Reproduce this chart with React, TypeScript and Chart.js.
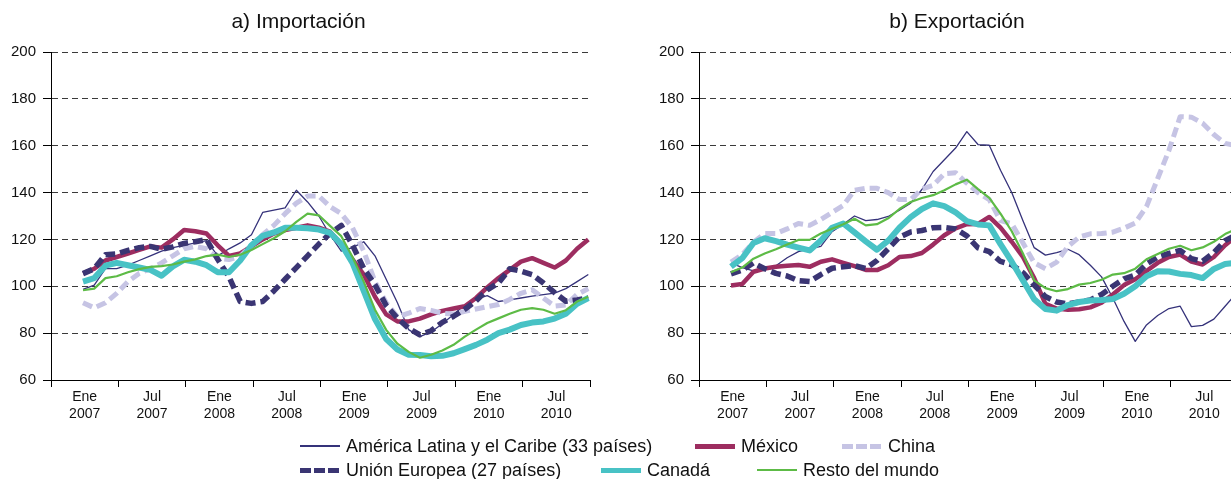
import React, { useEffect, useRef } from 'react';
import { Chart, registerables } from 'chart.js';

Chart.register(...registerables);

const FONT = '"Liberation Sans", Arial, Helvetica, sans-serif';

// Half-year labels under the x axis (one per six-month band)
const periodLabels: string[][] = [
  ['Ene', '2007'], ['Jul', '2007'], ['Ene', '2008'], ['Jul', '2008'],
  ['Ene', '2009'], ['Jul', '2009'], ['Ene', '2010'], ['Jul', '2010'],
];

// Index value axis
const yMin = 60;
const yMax = 200;
const yStep = 20;

// a) Importación — monthly index values
const impAmericaLatina = [98.7, 100.5, 107.5, 107.5, 109, 111, 113, 115, 116.5, 117.5, 118.5, 119.5, 113, 116, 118.5, 122, 131.5, 132.5, 133.5, 141, 136, 130, 122, 115, 116.5, 119, 113, 103, 93, 81.5, 78.5, 80.5, 84, 88, 92, 94.5, 96, 93.5, 94.2, 95, 95.8, 96.4, 97.1, 99, 102, 105];
const impMexico = [105.5, 107.5, 111, 112.5, 114, 115.5, 117, 116.5, 120, 124, 123.5, 122.5, 117.5, 113, 114, 117, 120, 122.5, 124, 125, 126, 125, 123.3, 118, 111.5, 105, 95.5, 88, 85, 85, 86.2, 88, 89.5, 90.5, 91.5, 95, 99.5, 103.5, 107, 110.5, 112, 110, 108, 111, 116, 120];
const impChina = [93, 90.8, 93, 97, 102, 105.5, 107.5, 110, 113, 116, 117, 116, 112, 111.4, 112.8, 117.5, 122, 126, 131, 135.5, 138.5, 138.5, 134, 131, 125, 115, 102, 93, 87, 88.5, 90.5, 89.7, 88.5, 88.2, 89.3, 90.3, 91.3, 92.2, 94.4, 97, 98.5, 95, 91.5, 92, 96.5, 99];
const impUnionEuropea = [105.4, 107.5, 113.5, 113.8, 115.3, 116.5, 117, 115.8, 116.8, 118.3, 119, 120, 111.5, 104, 93.5, 92.7, 93.5, 98, 103, 108, 113, 118, 122.5, 126, 117.6, 107.6, 100.6, 91.8, 86.4, 82.1, 79.3, 81, 84.6, 87.2, 90.2, 93.8, 98.5, 101.4, 107.5, 106.5, 105, 101.4, 97.3, 93.6, 94.2, 95];
const impCanada = [102, 103.5, 108.8, 110, 109, 108, 107, 104.5, 108.5, 111.3, 110.5, 109, 106, 106, 111, 117.5, 121.5, 123, 125, 125, 124.8, 124.2, 122.8, 118, 110, 98, 86, 77.5, 73, 70.8, 70.7, 70.1, 70.3, 71.4, 73.2, 75, 77.2, 80, 81.5, 83.5, 84.5, 85, 86.2, 88.3, 92.5, 95];
const impRestoMundo = [98.3, 99, 103.5, 104.3, 106, 107.3, 108.3, 108.6, 109.3, 110.5, 111.5, 112.9, 113.5, 112.5, 113.5, 115.5, 118, 120.5, 123.5, 127.5, 131, 130.3, 125.8, 121.4, 112.5, 102, 90, 81.4, 75.5, 72, 69.5, 70.8, 72.6, 75, 78.5, 81.5, 84.3, 86.3, 88.3, 90, 90.7, 90, 88.3, 89.8, 93.5, 95.5];

// b) Exportación — monthly index values
const expAmericaLatina = [110, 108, 106.6, 107.3, 108.8, 112.2, 114.8, 116, 117, 123.3, 126.5, 130, 128, 128.5, 129.8, 132.5, 135.5, 141.3, 149, 154, 159, 166, 160.5, 160.2, 149.5, 140, 128, 116.5, 113.3, 114.4, 115.8, 113.5, 109, 104, 95, 85, 76.5, 83.5, 87.5, 90.5, 91.5, 82.8, 83.3, 86, 91.5, 97];
const expMexico = [100.3, 101, 106.2, 107.6, 108.3, 108.8, 109.1, 108.3, 110.5, 111.5, 110, 108.6, 107, 106.9, 109, 112.5, 112.9, 114.2, 117.8, 121.8, 124.7, 126.5, 126.6, 129.6, 125, 119, 112.5, 103.5, 92.5, 90.5, 90, 90.2, 91, 93, 96.5, 100.5, 103, 106.5, 110, 112.5, 113.5, 110.5, 109.3, 112.5, 117.5, 121.5];
const expChina = [110.3, 113.5, 118.8, 122.5, 122.5, 124.5, 126.8, 126, 128.5, 131.5, 134.5, 141, 141.8, 141.8, 140, 137, 137, 141.5, 143.1, 148, 148.5, 144, 140, 137, 128, 126.7, 118.5, 110, 107.5, 110.3, 117, 121, 122.4, 122.5, 123.1, 124.8, 127, 134, 146, 158, 172.4, 172.2, 169.6, 164.8, 161, 160];
const expUnionEuropea = [105.3, 106.9, 110, 107.5, 105.5, 104.4, 102.4, 102, 105, 107.7, 108.3, 108.8, 107.6, 111, 116, 121, 123.2, 123.8, 125, 125.1, 124.5, 121.5, 116.4, 114.8, 110.6, 109.2, 105.8, 100.5, 95.6, 93.3, 92.5, 93.3, 94.2, 96.5, 100, 103.2, 104.8, 109.5, 112.5, 114, 115.3, 111.8, 110.7, 114.4, 119.5, 122];
const expCanada = [108.4, 112, 118.5, 120.5, 119.3, 117.8, 116.5, 115.3, 119.5, 125, 126.8, 123, 119.2, 115.6, 119.5, 125, 129.5, 133, 135.4, 134.2, 131.5, 127.8, 126.4, 126, 118, 110.5, 102.5, 94.5, 90.3, 89.6, 92, 93.3, 93.9, 94.1, 94.6, 96.8, 100, 104.3, 106.4, 106.3, 105.3, 104.8, 103.5, 107.4, 109.5, 110];
const expRestoMundo = [106, 108, 111.8, 114, 115.8, 117.8, 119.8, 119.8, 122.5, 124.6, 126.5, 128.8, 126, 126.5, 129, 133, 136, 137.7, 138.9, 141, 143.5, 145.5, 141.5, 137.7, 131, 123.5, 114, 102.5, 99.2, 97.9, 98.8, 100.7, 101.4, 102.8, 105, 105.6, 107.5, 111.5, 113.8, 116, 117.3, 115.4, 116.6, 119, 122.3, 124.5];

const seriesNames = [
  'América Latina y el Caribe (33 países)',
  'México',
  'China',
  'Unión Europea (27 países)',
  'Canadá',
  'Resto del mundo',
];

const importSeries = [impAmericaLatina, impMexico, impChina, impUnionEuropea, impCanada, impRestoMundo];
const exportSeries = [expAmericaLatina, expMexico, expChina, expUnionEuropea, expCanada, expRestoMundo];

type SeriesStyle = { color: string; width: number; dash: number[]; order: number; swatch: number };

// Line styles, in series order (lower "order" is drawn on top)
const seriesStyles: SeriesStyle[] = [
  { color: '#35327a', width: 1.3, dash: [], order: 5, swatch: 1.5 },
  { color: '#9d2d60', width: 4.5, dash: [], order: 4, swatch: 5 },
  { color: '#c6c4e4', width: 5, dash: [10, 5], order: 3, swatch: 5 },
  { color: '#3a3573', width: 5.5, dash: [10, 5], order: 2, swatch: 5 },
  { color: '#48c2c5', width: 6, dash: [], order: 1, swatch: 5 },
  { color: '#5dbb46', width: 2.2, dash: [], order: 0, swatch: 2.5 },
];

// The x axis covers 48 months; the first month sits just under three months in
const AXIS_START = -2.85;
const AXIS_MONTHS = 48;
const BAND = 6;

function makeConfig(values: number[][]): any {
  return {
    type: 'line',
    data: {
      datasets: values.map((vals, k) => ({
        label: seriesNames[k],
        data: vals.map((v, i) => ({ x: i, y: v })),
        borderColor: seriesStyles[k].color,
        backgroundColor: seriesStyles[k].color,
        borderWidth: seriesStyles[k].width,
        borderDash: seriesStyles[k].dash,
        borderCapStyle: 'butt',
        borderJoinStyle: 'round',
        pointRadius: 0,
        pointHoverRadius: 0,
        tension: 0,
        fill: false,
        order: seriesStyles[k].order,
      })),
    },
    options: {
      animation: false,
      responsive: false,
      devicePixelRatio: 1,
      events: [],
      layout: { padding: { top: 52, left: 0, right: 0, bottom: 0 } },
      plugins: {
        legend: { display: false },
        title: { display: false },
        tooltip: { enabled: false },
      },
      scales: {
        x: {
          type: 'linear',
          min: AXIS_START,
          max: AXIS_START + AXIS_MONTHS,
          afterBuildTicks: (scale: any) => {
            const t: { value: number }[] = [];
            const bands = AXIS_MONTHS / BAND;
            for (let k = 0; k <= bands; k++) {
              t.push({ value: AXIS_START + BAND * k });
              if (k < bands) t.push({ value: AXIS_START + BAND * k + BAND / 2 });
            }
            scale.ticks = t;
          },
          afterFit: (scale: any) => {
            scale.height = 60;
          },
          grid: {
            drawOnChartArea: false,
            drawTicks: true,
            tickLength: 7,
            tickWidth: 1,
            tickColor: (ctx: any) => (ctx.index % 2 === 0 ? '#000000' : 'rgba(0,0,0,0)'),
          },
          border: { display: true, color: '#000000', width: 1 },
          ticks: {
            autoSkip: false,
            maxRotation: 0,
            minRotation: 0,
            padding: 1,
            color: '#111111',
            font: { family: FONT, size: 14, lineHeight: 1.25 },
            callback: (_v: any, i: number) => (i % 2 === 1 ? periodLabels[(i - 1) / 2] : ''),
          },
        },
        y: {
          min: yMin,
          max: yMax,
          afterFit: (scale: any) => {
            scale.width = 51;
          },
          grid: {
            color: (ctx: any) => (ctx.tick && ctx.tick.value === yMin ? 'rgba(0,0,0,0)' : '#3a3a3a'),
            lineWidth: 1,
            drawTicks: true,
            tickLength: 8,
            tickWidth: 1,
            tickColor: '#000000',
          },
          border: { display: true, color: '#000000', width: 1, dash: [6, 4] },
          ticks: {
            stepSize: yStep,
            padding: 7,
            color: '#111111',
            font: { family: FONT, size: 15 },
          },
        },
      },
    },
  };
}

type LegendSlot = { series: number; left: number; top: number };
const legendSlots: LegendSlot[] = [
  { series: 0, left: 300, top: 446 },
  { series: 1, left: 695, top: 446 },
  { series: 2, left: 842, top: 446 },
  { series: 3, left: 300, top: 470 },
  { series: 4, left: 601, top: 470 },
  { series: 5, left: 757, top: 470 },
];

function Swatch({ k }: { k: number }) {
  const s = seriesStyles[k];
  const background = s.dash.length
    ? `repeating-linear-gradient(90deg, ${s.color} 0px, ${s.color} 11px, transparent 11px, transparent 14px)`
    : s.color;
  return <div style={{ width: 40, height: s.swatch, background, flex: '0 0 auto' }} />;
}

export default function App() {
  const impRef = useRef<HTMLCanvasElement>(null);
  const expRef = useRef<HTMLCanvasElement>(null);

  useEffect(() => {
    const charts: Chart[] = [];
    if (impRef.current) charts.push(new Chart(impRef.current, makeConfig(importSeries)));
    if (expRef.current) charts.push(new Chart(expRef.current, makeConfig(exportSeries)));
    return () => charts.forEach((c) => c.destroy());
  }, []);

  const titleStyle = (center: number): React.CSSProperties => ({
    position: 'absolute',
    left: center - 200,
    width: 400,
    top: 9,
    textAlign: 'center',
    fontSize: 21,
    lineHeight: '24px',
    color: '#111',
  });

  return (
    <div
      style={{
        position: 'fixed',
        left: 0,
        top: 0,
        width: 1231,
        height: 479,
        overflow: 'hidden',
        background: '#ffffff',
        fontFamily: FONT,
      }}
    >
      <canvas
        ref={impRef}
        width={591}
        height={440}
        style={{ position: 'absolute', left: 0, top: 0, width: 591, height: 440, display: 'block' }}
      />
      <canvas
        ref={expRef}
        width={591}
        height={440}
        style={{ position: 'absolute', left: 648, top: 0, width: 591, height: 440, display: 'block' }}
      />
      <div style={titleStyle(298.5)}>a) Importación</div>
      <div style={titleStyle(957)}>b) Exportación</div>
      {legendSlots.map((slot) => (
        <div
          key={slot.series}
          style={{
            position: 'absolute',
            left: slot.left,
            top: slot.top - 12,
            height: 24,
            display: 'flex',
            alignItems: 'center',
            whiteSpace: 'nowrap',
            fontSize: 18,
            color: '#111',
          }}
        >
          <Swatch k={slot.series} />
          <span style={{ marginLeft: 6 }}>{seriesNames[slot.series]}</span>
        </div>
      ))}
    </div>
  );
}
